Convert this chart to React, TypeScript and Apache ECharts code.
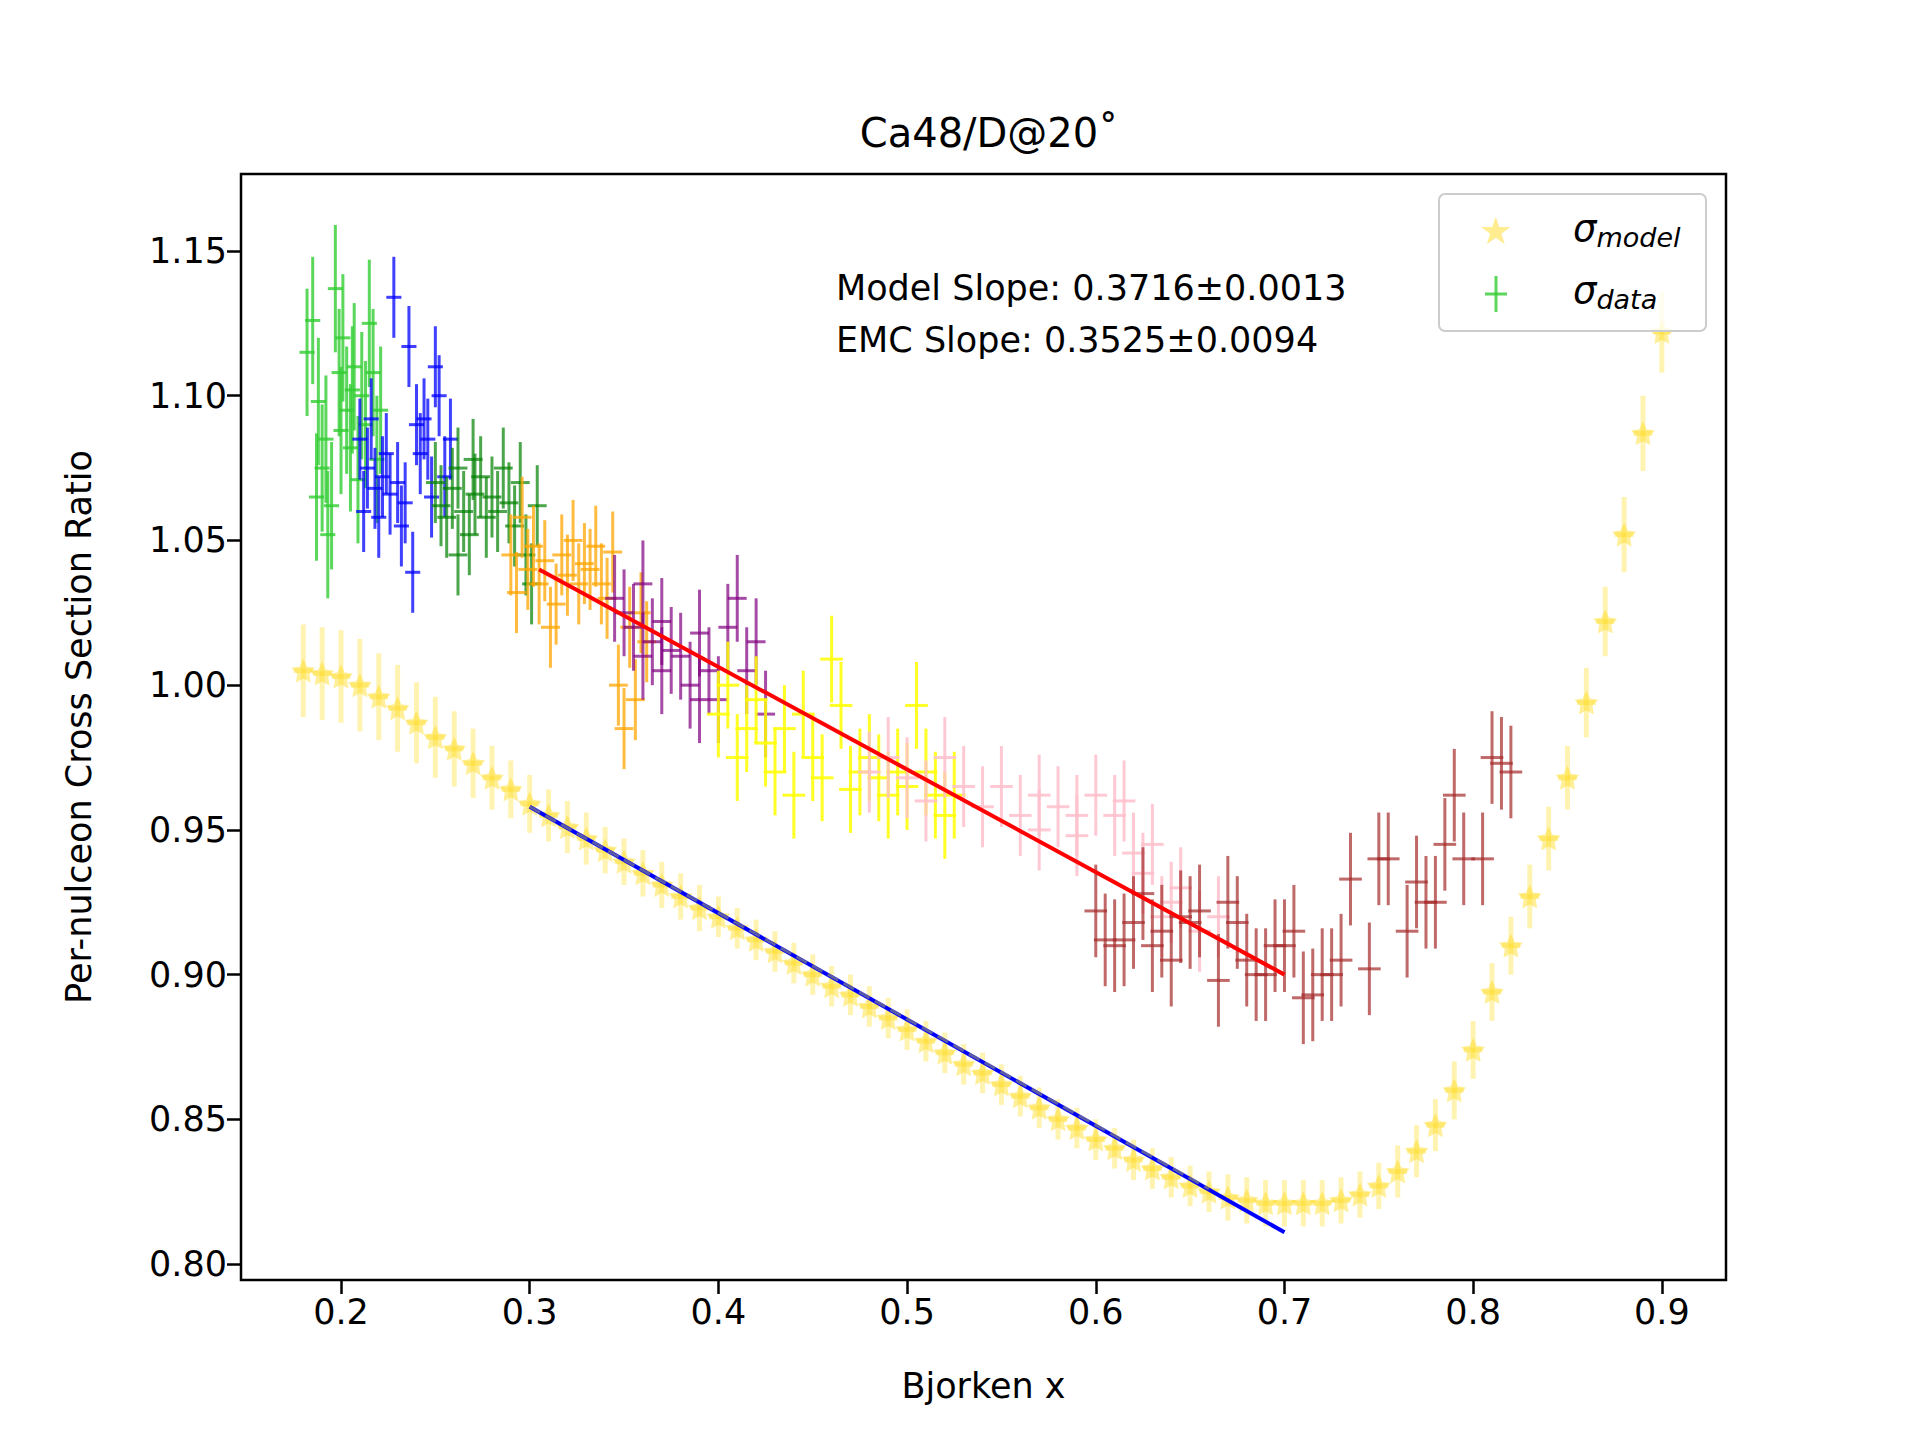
import React, { useEffect, useRef } from "react";
import * as echarts from "echarts";

const modelX = [0.18,0.19,0.20,0.21,0.22,0.23,0.24,0.25,0.26,0.27,0.28,0.29,0.30,0.31,0.32,0.33,0.34,0.35,0.36,0.37,0.38,0.39,0.40,0.41,0.42,0.43,0.44,0.45,0.46,0.47,0.48,0.49,0.50,0.51,0.52,0.53,0.54,0.55,0.56,0.57,0.58,0.59,0.60,0.61,0.62,0.63,0.64,0.65,0.66,0.67,0.68,0.69,0.70,0.71,0.72,0.73,0.74,0.75,0.76,0.77,0.78,0.79,0.80,0.81,0.82,0.83,0.84,0.85,0.86,0.87,0.88,0.89,0.90];
const modelY = [1.005,1.004,1.003,1.000,0.996,0.992,0.987,0.982,0.978,0.973,0.968,0.964,0.959,0.955,0.951,0.947,0.943,0.939,0.935,0.931,0.927,0.923,0.920,0.916,0.912,0.908,0.904,0.900,0.896,0.893,0.889,0.885,0.881,0.877,0.873,0.869,0.866,0.862,0.858,0.854,0.850,0.847,0.843,0.840,0.836,0.833,0.830,0.827,0.825,0.823,0.822,0.821,0.821,0.821,0.821,0.822,0.824,0.827,0.832,0.839,0.848,0.860,0.874,0.894,0.910,0.927,0.947,0.968,0.994,1.022,1.052,1.087,1.122];
const modelErr = [0.016,0.016,0.016,0.016,0.015,0.015,0.014,0.014,0.013,0.012,0.011,0.010,0.010,0.009,0.009,0.009,0.008,0.008,0.008,0.008,0.008,0.008,0.007,0.007,0.007,0.007,0.007,0.007,0.007,0.007,0.007,0.007,0.007,0.007,0.007,0.007,0.007,0.007,0.007,0.007,0.007,0.007,0.007,0.007,0.007,0.007,0.007,0.007,0.007,0.008,0.008,0.008,0.008,0.008,0.008,0.008,0.008,0.008,0.009,0.009,0.009,0.010,0.010,0.010,0.010,0.011,0.011,0.011,0.012,0.012,0.013,0.013,0.014];

const limeData = [[0.182,1.115],[0.185,1.126],[0.188,1.098],[0.19,1.075],[0.192,1.085],[0.195,1.062],[0.197,1.137],[0.199,1.108],[0.201,1.12],[0.203,1.095],[0.205,1.082],[0.207,1.11],[0.209,1.071],[0.211,1.1],[0.213,1.09],[0.215,1.125],[0.217,1.108],[0.219,1.078],[0.221,1.095],[0.187,1.065],[0.193,1.052],[0.2,1.088],[0.206,1.102]];
const blueData = [[0.21,1.085],[0.212,1.06],[0.214,1.075],[0.216,1.092],[0.218,1.068],[0.22,1.058],[0.222,1.072],[0.224,1.08],[0.226,1.066],[0.228,1.134],[0.23,1.07],[0.232,1.055],[0.234,1.063],[0.236,1.117],[0.238,1.039],[0.24,1.09],[0.242,1.08],[0.244,1.092],[0.246,1.085],[0.248,1.065],[0.25,1.11],[0.252,1.1],[0.255,1.072],[0.258,1.085]];
const darkGreenData = [[0.25,1.07],[0.253,1.062],[0.256,1.058],[0.259,1.068],[0.262,1.075],[0.265,1.06],[0.268,1.052],[0.271,1.066],[0.274,1.072],[0.277,1.058],[0.28,1.065],[0.283,1.06],[0.286,1.075],[0.289,1.063],[0.292,1.055],[0.295,1.07],[0.298,1.045],[0.301,1.035],[0.304,1.062],[0.262,1.045],[0.27,1.078]];
const orangeData = [[0.29,1.045],[0.293,1.032],[0.296,1.058],[0.299,1.04],[0.302,1.048],[0.305,1.035],[0.308,1.043],[0.311,1.02],[0.314,1.028],[0.317,1.045],[0.32,1.038],[0.323,1.05],[0.326,1.035],[0.329,1.042],[0.332,1.04],[0.335,1.048],[0.338,1.035],[0.341,1.03],[0.344,1.046],[0.347,1.0],[0.35,0.985],[0.353,1.02],[0.356,0.995],[0.359,1.025],[0.362,1.015]];
const purpleData = [[0.345,1.03],[0.35,1.025],[0.355,1.02],[0.36,1.035],[0.365,1.015],[0.37,1.022],[0.375,1.012],[0.38,1.01],[0.385,1.0],[0.39,1.018],[0.395,1.005],[0.4,0.995],[0.405,1.02],[0.41,1.03],[0.415,1.005],[0.42,1.015],[0.425,0.99],[0.36,1.01],[0.37,1.005],[0.39,0.995]];
const yellowData = [[0.4,0.99],[0.405,1.0],[0.41,0.975],[0.415,0.985],[0.42,0.995],[0.425,0.98],[0.43,0.97],[0.435,0.985],[0.44,0.962],[0.445,0.99],[0.45,0.975],[0.455,0.968],[0.46,1.009],[0.465,0.993],[0.47,0.964],[0.475,0.97],[0.48,0.975],[0.485,0.968],[0.49,0.962],[0.495,0.97],[0.5,0.965],[0.505,0.993],[0.51,0.97],[0.515,0.962],[0.52,0.955],[0.525,0.962]];
const pinkData = [[0.48,0.97],[0.49,0.975],[0.5,0.968],[0.51,0.96],[0.52,0.975],[0.53,0.965],[0.54,0.958],[0.55,0.965],[0.56,0.955],[0.57,0.962],[0.58,0.958],[0.59,0.948],[0.6,0.962],[0.61,0.955],[0.615,0.96],[0.62,0.942],[0.625,0.935],[0.63,0.945],[0.635,0.92],[0.64,0.925],[0.645,0.93],[0.655,0.915],[0.665,0.92],[0.59,0.955],[0.57,0.95]];
const brownData = [[0.6,0.922],[0.605,0.912],[0.61,0.91],[0.615,0.912],[0.62,0.918],[0.625,0.928],[0.63,0.91],[0.635,0.915],[0.64,0.905],[0.645,0.92],[0.65,0.918],[0.655,0.922],[0.665,0.898],[0.67,0.925],[0.675,0.918],[0.68,0.905],[0.685,0.9],[0.69,0.9],[0.695,0.91],[0.7,0.91],[0.705,0.915],[0.71,0.892],[0.715,0.893],[0.72,0.9],[0.725,0.9],[0.73,0.905],[0.735,0.933],[0.745,0.902],[0.75,0.94],[0.755,0.94],[0.765,0.915],[0.77,0.932],[0.775,0.925],[0.78,0.925],[0.785,0.945],[0.79,0.962],[0.795,0.94],[0.805,0.94],[0.81,0.975],[0.815,0.973],[0.82,0.97]];

const emcFit = [[0.305, 1.040], [0.70, 0.900]];
const modelFit = [[0.30, 0.958], [0.70, 0.811]];
const modelFitDash = [[0.30, 0.958], [0.66, 0.826]];

const xTicks = [0.2, 0.3, 0.4, 0.5, 0.6, 0.7, 0.8, 0.9];
const yTicks = [0.8, 0.85, 0.9, 0.95, 1.0, 1.05, 1.1, 1.15];

const STAR = "path://M0,-10 L2.9,-4 9.5,-3.1 4.8,1.5 5.9,8.1 0,5 -5.9,8.1 -4.8,1.5 -9.5,-3.1 -2.9,-4Z";
const FONT = "DejaVu Sans";

function errSeries(data: number[][], xerr: number, yerr: number, color: string, opacity: number, lw: number) {
  return {
    type: "custom",
    data: data.map((d) => [d[0], d[1], d[2] ?? xerr, d[3] ?? yerr]),
    renderItem: (params: any, api: any) => {
      const x = api.value(0), y = api.value(1), ex = api.value(2), ey = api.value(3);
      const l = api.coord([x - ex, y]), r = api.coord([x + ex, y]);
      const t = api.coord([x, y + ey]), b = api.coord([x, y - ey]);
      const style = { stroke: color, lineWidth: lw, opacity };
      return {
        type: "group",
        children: [
          { type: "line", shape: { x1: l[0], y1: l[1], x2: r[0], y2: r[1] }, style },
          { type: "line", shape: { x1: t[0], y1: t[1], x2: b[0], y2: b[1] }, style },
        ],
      };
    },
    z: 3,
  };
}

export default function App() {
  const ref = useRef<HTMLDivElement>(null);
  useEffect(() => {
    document.body.style.margin = "0";
    const chart = echarts.init(ref.current!, null, { renderer: "svg" });
    const modelData = modelX.map((x, i) => [x, modelY[i], 0.005, modelErr[i]]);
    const option: any = {
      animation: false,
      backgroundColor: "#ffffff",
      textStyle: { fontFamily: FONT },
      title: {
        text: "Ca48/D@20˚",
        left: 984, top: 108, textAlign: "center",
        textStyle: { fontFamily: FONT, fontSize: 40, fontWeight: "normal", color: "#000" },
      },
      grid: { left: 241, right: 194, top: 174, bottom: 160, show: true, borderColor: "#000", borderWidth: 2.5, backgroundColor: "transparent" },
      xAxis: {
        type: "value", min: 0.147, max: 0.934,
        name: "Bjorken x", nameLocation: "middle", nameGap: 88,
        nameTextStyle: { fontFamily: FONT, fontSize: 35, color: "#000" },
        axisLine: { show: false },
        axisTick: { show: true, length: 14, lineStyle: { color: "#000", width: 2.5 }, customValues: xTicks },
        splitLine: { show: false },
        axisLabel: {
          fontFamily: FONT, fontSize: 35, color: "#000", margin: 14,
          customValues: xTicks,
          formatter: (v: number) => v.toFixed(1),
        },
      },
      yAxis: {
        type: "value", min: 0.7945, max: 1.1766,
        name: "Per-nulceon Cross Section Ratio", nameLocation: "middle", nameGap: 145,
        nameTextStyle: { fontFamily: FONT, fontSize: 35, color: "#000" },
        axisLine: { show: false },
        axisTick: { show: true, length: 14, lineStyle: { color: "#000", width: 2.5 }, customValues: yTicks },
        splitLine: { show: false },
        axisLabel: {
          fontFamily: FONT, fontSize: 35, color: "#000", margin: 14,
          customValues: yTicks,
          formatter: (v: number) => v.toFixed(2),
        },
      },
      series: [
        errSeries(modelData, 0.005, 0.01, "#FFD700", 0.3, 5),
        {
          type: "scatter", data: modelX.map((x, i) => [x, modelY[i]]),
          symbol: STAR, symbolSize: 24, itemStyle: { color: "#FFD700", opacity: 0.4 }, z: 3,
        },
        errSeries(limeData, 0.004, 0.022, "#32CD32", 0.8, 3),
        errSeries(blueData, 0.004, 0.014, "#0000FF", 0.75, 3),
        errSeries(darkGreenData, 0.005, 0.014, "#008000", 0.7, 3),
        errSeries(orangeData, 0.005, 0.014, "#FFA500", 0.75, 3),
        errSeries(purpleData, 0.005, 0.015, "#800080", 0.7, 3),
        errSeries(yellowData, 0.006, 0.015, "#FFFF00", 0.85, 3),
        errSeries(pinkData, 0.006, 0.014, "#FFC0CB", 0.85, 3),
        errSeries(brownData, 0.006, 0.016, "#A52A2A", 0.7, 3),
        { type: "line", data: emcFit, symbol: "none", lineStyle: { color: "#FF0000", width: 4 }, z: 5 },
        { type: "line", data: modelFit, symbol: "none", lineStyle: { color: "#0000FF", width: 4 }, z: 5 },
        { type: "line", data: modelFitDash, symbol: "none", lineStyle: { color: "#808080", width: 3, type: "dashed", opacity: 0.7 }, z: 6 },
      ],
      graphic: [
        {
          type: "text", left: 836, top: 262, z: 10,
          style: { text: "Model Slope: 0.3716±0.0013\nEMC Slope: 0.3525±0.0094", font: `35px "${FONT}"`, fill: "#000", lineHeight: 52 },
        },
        {
          type: "rect", left: 1438, top: 193, z: 11,
          shape: { width: 267, height: 137, r: 6 },
          style: { fill: "rgba(255,255,255,0.8)", stroke: "#cccccc", lineWidth: 2 },
        },
        {
          type: "text", left: 1479, top: 212, z: 12,
          style: { text: "★", font: `38px "${FONT}"`, fill: "rgba(255,215,0,0.45)" },
        },
        { type: "line", z: 12, shape: { x1: 1496, y1: 276, x2: 1496, y2: 312 }, style: { stroke: "#32CD32", lineWidth: 3, opacity: 0.8 } },
        { type: "line", z: 12, shape: { x1: 1485, y1: 294, x2: 1507, y2: 294 }, style: { stroke: "#32CD32", lineWidth: 3, opacity: 0.8 } },
        {
          type: "text", left: 1573, top: 210, z: 12,
          style: {
            text: "{s|σ}{b|model}",
            rich: {
              s: { font: `italic 37px "${FONT}"`, fill: "#000" },
              b: { font: `italic 27px "${FONT}"`, fill: "#000", padding: [18, 0, 0, 0] },
            },
          },
        },
        {
          type: "text", left: 1573, top: 272, z: 12,
          style: {
            text: "{s|σ}{b|data}",
            rich: {
              s: { font: `italic 37px "${FONT}"`, fill: "#000" },
              b: { font: `italic 27px "${FONT}"`, fill: "#000", padding: [18, 0, 0, 0] },
            },
          },
        },
      ],
    };
    chart.setOption(option);
    return () => chart.dispose();
  }, []);
  return <div ref={ref} style={{ width: 1920, height: 1440 }} />;
}
